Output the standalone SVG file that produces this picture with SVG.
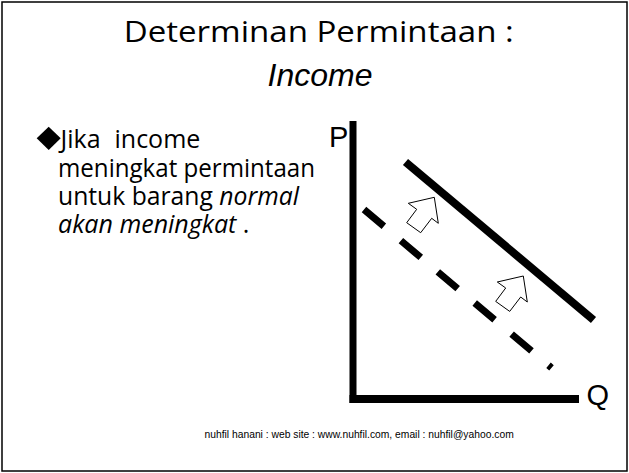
<svg xmlns="http://www.w3.org/2000/svg" width="629" height="473" viewBox="0 0 629 473">
  <style>
    .title { font-family: "Open Sans", "Noto Sans", sans-serif; font-size: 29px; fill: #000; }
    .sub { font-family: "Liberation Sans", Arial, sans-serif; font-size: 32px; font-style: italic; fill: #000; }
    .body { font-family: "Open Sans", "Noto Sans", sans-serif; font-size: 25px; fill: #000; }
    .it { font-style: italic; }
    .axislbl { font-family: "Liberation Sans", Arial, sans-serif; font-size: 29px; fill: #000; }
    .foot { font-family: "Liberation Sans", Arial, sans-serif; font-size: 10.3px; fill: #000; }
    .curve { stroke: #000; stroke-width: 8; fill: none; }
    .dash { stroke: #000; stroke-width: 7; fill: none; stroke-dasharray: 26 22.3; }
    .shift { fill: #fff; stroke: #000; stroke-width: 1; stroke-linejoin: miter; }
  </style>
  <defs>
    <path id="shiftArrow" class="shift" d="M0,0 L4,26 L-2.6,21 L-13.6,35.4 L-27.6,25.4 L-17.6,12 L-26,6 Z"/>
  </defs>
  <rect x="0" y="0" width="629" height="473" fill="#fff"/>
  <rect x="2" y="2" width="625" height="469" fill="none" stroke="#000" stroke-width="1.5"/>

  <g id="title">
    <text class="title" x="318.7" y="42.3" text-anchor="middle" textLength="390" lengthAdjust="spacingAndGlyphs">Determinan Permintaan :</text>
    <text class="sub" x="320" y="86" text-anchor="middle">Income</text>
  </g>

  <g id="bullet">
    <polygon points="48.7,126.7 60.7,138.3 48.7,150 36.7,138.3" fill="#000"/>
    <text class="body" y="148.3"><tspan x="60.5">Jika</tspan><tspan x="114.5">income</tspan></text>
    <text class="body" x="58" y="176.7" textLength="257" lengthAdjust="spacingAndGlyphs">meningkat permintaan</text>
    <text class="body" x="58" y="205" textLength="241" lengthAdjust="spacingAndGlyphs">untuk barang <tspan class="it">normal</tspan></text>
    <text class="body" x="58" y="233.3"><tspan class="it">akan meningkat</tspan> .</text>
  </g>

  <g id="axes">
    <rect x="349.5" y="121" width="7" height="282" fill="#000"/>
    <rect x="349.5" y="395" width="229.5" height="8" fill="#000"/>
    <text id="label-P" class="axislbl" x="329" y="147">P</text>
    <text id="label-Q" class="axislbl" x="586.5" y="405">Q</text>
  </g>

  <g id="connectors">
    <line id="demand-new" class="curve" x1="405.5" y1="162" x2="593.5" y2="320"/>
    <line id="demand-old" class="dash" x1="364" y1="209.5" x2="551.5" y2="367.8"/>
    <use id="shift-1" href="#shiftArrow" transform="translate(434.3,197.3)"/>
    <use id="shift-2" href="#shiftArrow" transform="translate(523.3,276)"/>
  </g>

  <g id="footer">
    <text class="foot" x="204.5" y="438">nuhfil hanani : web site : www.nuhfil.com, email : nuhfil@yahoo.com</text>
  </g>
</svg>
